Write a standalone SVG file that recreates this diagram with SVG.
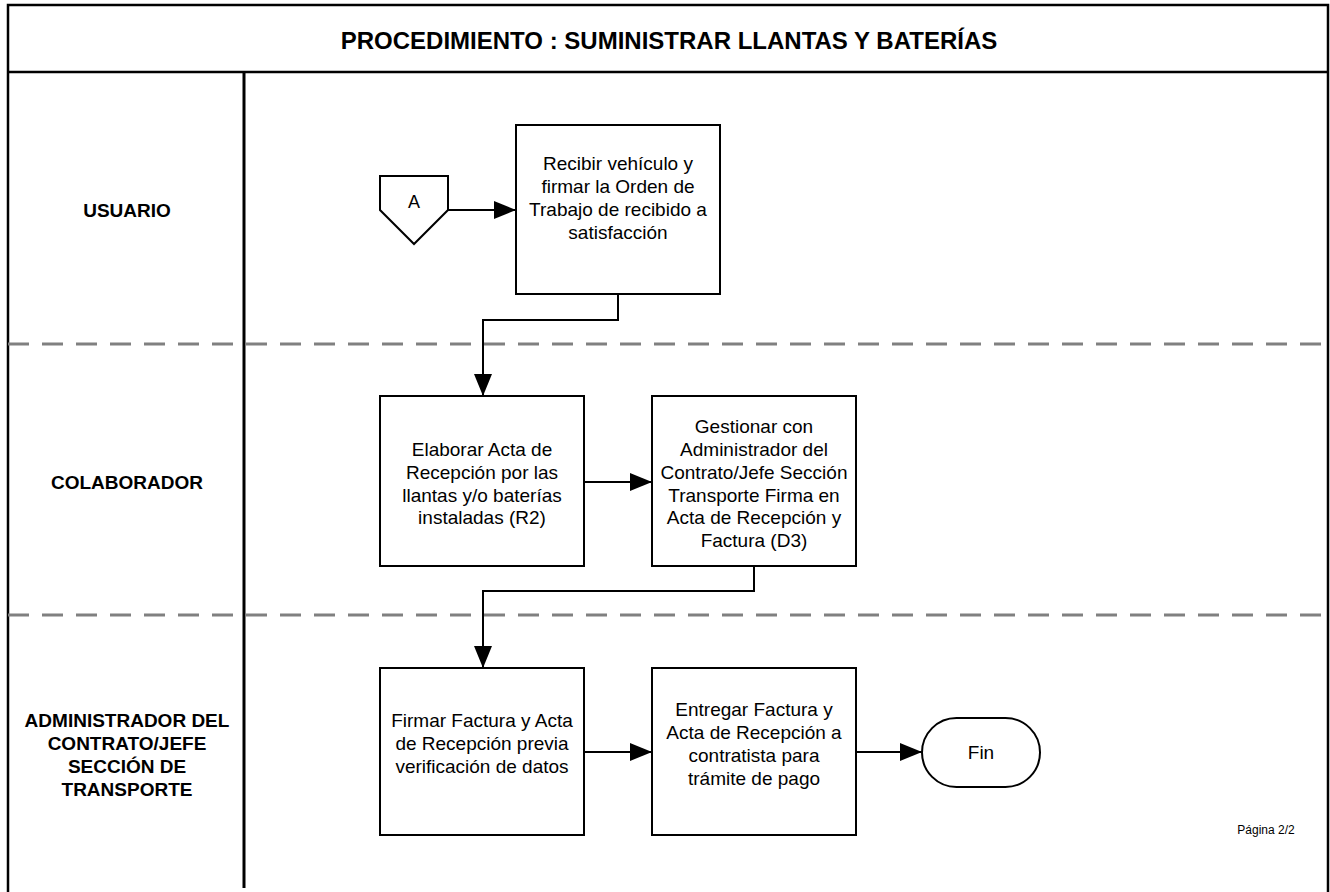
<svg xmlns="http://www.w3.org/2000/svg" width="1330" height="892" viewBox="0 0 1330 892">
<style>
.frame{fill:none;stroke:#000;stroke-width:2.5}
.lane{stroke:#000;stroke-width:3}
.dash{stroke:#808080;stroke-width:3;stroke-dasharray:21 13}
.box{fill:#fff;stroke:#000;stroke-width:2}
.conn{fill:none;stroke:#000;stroke-width:2}
.t{font-family:"Liberation Sans",Arial,sans-serif;font-size:19px;fill:#000;text-anchor:middle}
.lbl{font-family:"Liberation Sans",Arial,sans-serif;font-size:19px;font-weight:bold;fill:#000;text-anchor:middle}
.title{font-family:"Liberation Sans",Arial,sans-serif;font-size:24px;font-weight:bold;fill:#000;text-anchor:middle}
.small{font-family:"Liberation Sans",Arial,sans-serif;font-size:12px;fill:#000;text-anchor:middle}
</style>
<defs>
<marker id="arr" markerUnits="userSpaceOnUse" markerWidth="22" markerHeight="18" refX="22" refY="9" orient="auto">
<path d="M0,0 L22,9 L0,18 z" fill="#000"/>
</marker>
</defs>
<rect width="1330" height="892" fill="#fff"/>
<g id="frame">
<path class="frame" d="M8,892 V5 H1328 V892"/>
<line class="frame" x1="8" y1="72" x2="1328" y2="72"/>
<line class="lane" x1="244" y1="72" x2="244" y2="888"/>
<line class="dash" x1="8" y1="344" x2="1328" y2="344"/>
<line class="dash" x1="8" y1="615" x2="1328" y2="615"/>
<text class="title" x="669" y="49">PROCEDIMIENTO : SUMINISTRAR LLANTAS Y BATERÍAS</text>
</g>
<g id="lane-usuario"><text class="lbl" x="127" y="217">USUARIO</text></g>
<g id="lane-colaborador"><text class="lbl" x="127" y="489">COLABORADOR</text></g>
<g id="lane-administrador">
<text class="lbl" x="127" y="727">ADMINISTRADOR DEL</text>
<text class="lbl" x="127" y="750">CONTRATO/JEFE</text>
<text class="lbl" x="127" y="773">SECCIÓN DE</text>
<text class="lbl" x="127" y="796">TRANSPORTE</text>
</g>
<g id="connectors">
<path class="conn" marker-end="url(#arr)" d="M448,210 H516"/>
<path class="conn" marker-end="url(#arr)" d="M618,294 V320 H483 V396"/>
<path class="conn" marker-end="url(#arr)" d="M584,482 H652"/>
<path class="conn" marker-end="url(#arr)" d="M754,566 V591 H483 V668"/>
<path class="conn" marker-end="url(#arr)" d="M584,752 H652"/>
<path class="conn" marker-end="url(#arr)" d="M856,752 H922"/>
</g>
<g id="node-A">
<path class="box" d="M380,176 H448 V210 L414,244 L380,210 Z"/>
<text class="t" x="414" y="208" style="font-size:18px">A</text>
</g>
<g id="node-recibir">
<rect class="box" x="516" y="125" width="204" height="169"/>
<text class="t" x="618" y="170">Recibir vehículo y</text>
<text class="t" x="618" y="193">firmar la Orden de</text>
<text class="t" x="618" y="216">Trabajo de recibido a</text>
<text class="t" x="618" y="239">satisfacción</text>
</g>
<g id="node-elaborar">
<rect class="box" x="380" y="396" width="204" height="170"/>
<text class="t" x="482" y="456">Elaborar Acta de</text>
<text class="t" x="482" y="479">Recepción por las</text>
<text class="t" x="482" y="502">llantas y/o baterías</text>
<text class="t" x="482" y="524">instaladas (R2)</text>
</g>
<g id="node-gestionar">
<rect class="box" x="652" y="396" width="204" height="170"/>
<text class="t" x="754" y="433">Gestionar con</text>
<text class="t" x="754" y="456">Administrador del</text>
<text class="t" x="754" y="479">Contrato/Jefe Sección</text>
<text class="t" x="754" y="502">Transporte Firma en</text>
<text class="t" x="754" y="524">Acta de Recepción y</text>
<text class="t" x="754" y="547">Factura (D3)</text>
</g>
<g id="node-firmar">
<rect class="box" x="380" y="668" width="204" height="167"/>
<text class="t" x="482" y="727">Firmar Factura y Acta</text>
<text class="t" x="482" y="750">de Recepción previa</text>
<text class="t" x="482" y="773">verificación de datos</text>
</g>
<g id="node-entregar">
<rect class="box" x="652" y="668" width="204" height="167"/>
<text class="t" x="754" y="716">Entregar Factura y</text>
<text class="t" x="754" y="739">Acta de Recepción a</text>
<text class="t" x="754" y="762">contratista para</text>
<text class="t" x="754" y="785">trámite de pago</text>
</g>
<g id="node-fin">
<rect class="box" x="922" y="718" width="118" height="69" rx="34.5" ry="34.5"/>
<text class="t" x="981" y="759">Fin</text>
</g>
<g id="page-label"><text class="small" x="1266" y="834">Página 2/2</text></g>
</svg>
